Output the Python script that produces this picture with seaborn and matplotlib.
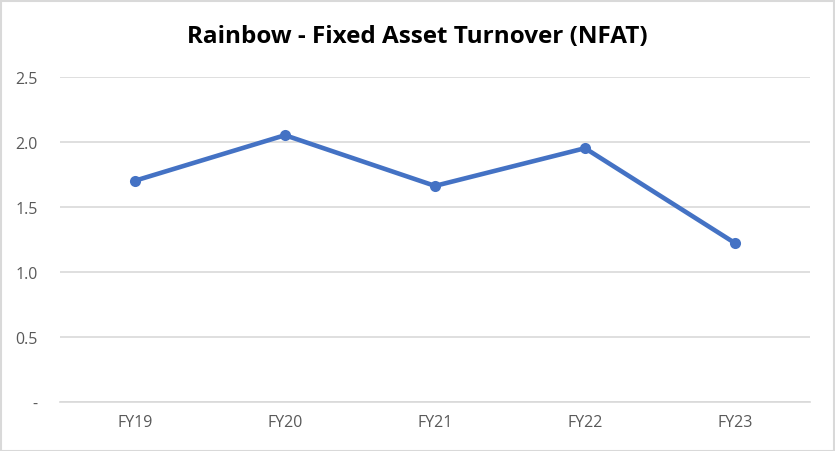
import matplotlib
matplotlib.use("Agg")
import matplotlib.pyplot as plt
import seaborn as sns
import pandas as pd
from matplotlib.patches import Rectangle

years = ["FY19", "FY20", "FY21", "FY22", "FY23"]
nfat = [1.70, 2.05, 1.66, 1.95, 1.22]
y_ticks = [0, 0.5, 1.0, 1.5, 2.0, 2.5]
y_labels = ["-", "0.5", "1.0", "1.5", "2.0", "2.5"]

sns.set_theme(style="white")
plt.rcParams["font.family"] = ["Open Sans", "DejaVu Sans"]

df = pd.DataFrame({"year": years, "nfat": nfat})
df["pos"] = range(len(years))

fig = plt.figure(figsize=(8.35, 4.52), dpi=100)
ax = fig.add_axes([60 / 835, (452 - 402.7) / 452, 750 / 835, 325 / 452])

sns.lineplot(data=df, x="pos", y="nfat", ax=ax, color="#4472C4", linewidth=3.3,
             marker="o", markersize=8, markeredgewidth=0)

ax.set_xlim(-0.5, len(years) - 0.5)
ax.set_ylim(0, 2.5)
ax.set_xticks(df["pos"])
ax.set_xticklabels(years)
ax.set_yticks(y_ticks)
ax.set_yticklabels(y_labels)
ax.yaxis.grid(True, color="#d9d9d9", linewidth=1.2)
ax.set_axisbelow(True)
for s in ["left", "right", "top"]:
    ax.spines[s].set_visible(False)
ax.spines["bottom"].set_color("#d9d9d9")
ax.spines["bottom"].set_linewidth(1.2)
ax.tick_params(axis="both", length=0, labelsize=11.5, labelcolor="#595959")
ax.tick_params(axis="y", pad=16)
ax.tick_params(axis="x", pad=9)
ax.set_xlabel("")
ax.set_ylabel("")

fig.text(0.5, 1 - 37 / 452, "Rainbow - Fixed Asset Turnover (NFAT)", ha="center", va="center",
         fontsize=17.5, fontweight="bold", color="#000000")

fig.patches.append(Rectangle((0.5 / 835, 0.5 / 452), 833 / 835, 450 / 452, transform=fig.transFigure,
                             fill=False, edgecolor="#d9d9d9", linewidth=1.5))

fig.savefig("out.png", dpi=100, facecolor="white")
